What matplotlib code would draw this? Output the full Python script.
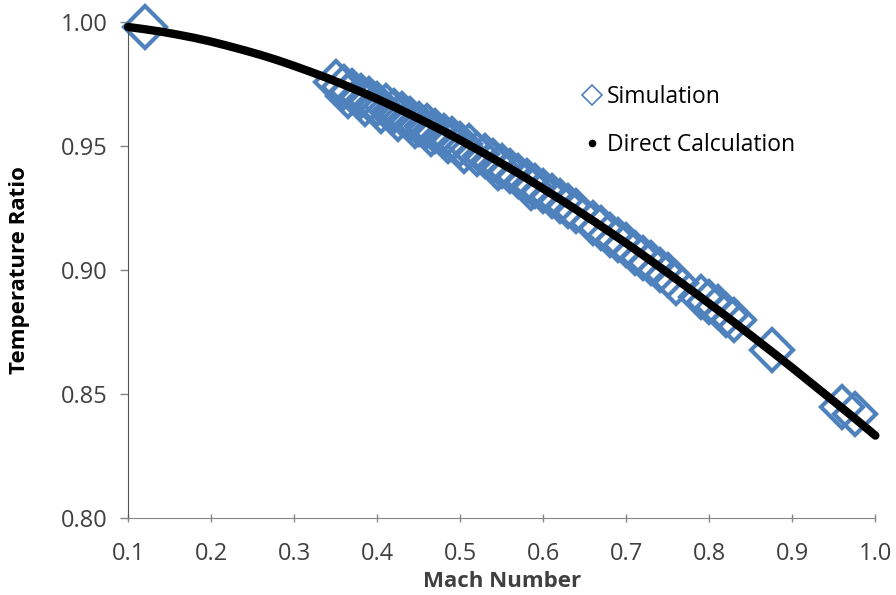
import matplotlib
matplotlib.use("Agg")
import matplotlib.pyplot as plt
from matplotlib.lines import Line2D

# Data
calc_mach = [0.10, 0.12, 0.14, 0.16, 0.18, 0.20, 0.22, 0.24, 0.26, 0.28,
             0.30, 0.32, 0.34, 0.36, 0.38, 0.40, 0.42, 0.44, 0.46, 0.48,
             0.50, 0.52, 0.54, 0.56, 0.58, 0.60, 0.62, 0.64, 0.66, 0.68,
             0.70, 0.72, 0.74, 0.76, 0.78, 0.80, 0.82, 0.84, 0.86, 0.88,
             0.90, 0.92, 0.94, 0.96, 0.98, 1.00]
calc_ratio = [0.9980, 0.9971, 0.9961, 0.9949, 0.9936, 0.9921, 0.9904, 0.9886, 0.9867, 0.9846,
              0.9823, 0.9799, 0.9774, 0.9747, 0.9719, 0.9690, 0.9659, 0.9627, 0.9594, 0.9560,
              0.9524, 0.9487, 0.9449, 0.9410, 0.9370, 0.9328, 0.9286, 0.9243, 0.9199, 0.9154,
              0.9108, 0.9061, 0.9013, 0.8964, 0.8915, 0.8865, 0.8815, 0.8763, 0.8711, 0.8659,
              0.8606, 0.8552, 0.8498, 0.8444, 0.8389, 0.8333]

sim_mach = [0.12, 0.35, 0.36, 0.37, 0.38, 0.39, 0.40, 0.41, 0.42, 0.43,
            0.44, 0.45, 0.46, 0.47, 0.48, 0.49, 0.50, 0.51, 0.52, 0.53,
            0.54, 0.55, 0.56, 0.57, 0.58, 0.59, 0.60, 0.61, 0.62, 0.63,
            0.64, 0.66, 0.67, 0.68, 0.69, 0.70, 0.71, 0.72, 0.73, 0.74,
            0.75, 0.76, 0.79, 0.80, 0.81, 0.82, 0.83, 0.875, 0.96, 0.975,
            0.365, 0.385, 0.405, 0.425, 0.445, 0.465, 0.485, 0.505, 0.545, 0.585]
sim_ratio = [0.998, 0.976, 0.974, 0.972, 0.970, 0.969, 0.967, 0.966, 0.964, 0.963,
             0.961, 0.959, 0.958, 0.956, 0.954, 0.953, 0.951, 0.950, 0.947, 0.946,
             0.944, 0.942, 0.940, 0.938, 0.936, 0.934, 0.932, 0.930, 0.928, 0.926,
             0.924, 0.919, 0.917, 0.914, 0.912, 0.910, 0.907, 0.905, 0.903, 0.900,
             0.898, 0.895, 0.889, 0.887, 0.885, 0.882, 0.880, 0.868, 0.845, 0.842,
             0.970, 0.967, 0.964, 0.961, 0.958, 0.955, 0.952, 0.948, 0.941, 0.933]

x_ticks = [0.1, 0.2, 0.3, 0.4, 0.5, 0.6, 0.7, 0.8, 0.9, 1.0]
y_ticks = [0.80, 0.85, 0.90, 0.95, 1.00]

plt.rcParams['font.family'] = ['Open Sans', 'DejaVu Sans']

blue = '#4F81BD'
fig = plt.figure(figsize=(8.96, 5.95), dpi=100)
ax = fig.add_axes([0.143, 0.129, 0.834, 0.834])

ax.plot(sim_mach, sim_ratio, linestyle='none', marker='D', ms=21,
        mfc='none', mec=blue, mew=3, clip_on=False, zorder=2)
ax.plot(calc_mach, calc_ratio, color='black', lw=6, solid_capstyle='round',
        solid_joinstyle='round', clip_on=False, zorder=3)

ax.set_xlim(0.1, 1.0)
ax.set_ylim(0.80, 1.00)
ax.set_xticks(x_ticks)
ax.set_xticklabels([f'{v:.1f}' for v in x_ticks])
ax.set_yticks(y_ticks)
ax.set_yticklabels([f'{v:.2f}' for v in y_ticks])

for side in ['top', 'right']:
    ax.spines[side].set_visible(False)
ax.spines['left'].set_color('#555555')
ax.spines['bottom'].set_color('#868686')
ax.tick_params(axis='both', colors='#868686', labelcolor='#404040',
               labelsize=17, length=6, width=1)
ax.tick_params(axis='x', direction='inout', pad=14)
ax.tick_params(axis='y', pad=9)

ax.set_xlabel('Mach Number', fontsize=16, fontweight='bold', color='#404040',
              labelpad=4)
ax.set_ylabel('Temperature Ratio', fontsize=16, fontweight='bold', color='black',
              labelpad=22)

handles = [
    Line2D([], [], linestyle='none', marker='D', ms=10, mfc='none', mec=blue, mew=1.2),
    Line2D([], [], linestyle='none', marker='o', ms=4.5, color='black'),
]
ax.legend(handles, ['Simulation', 'Direct Calculation'], frameon=False,
          loc='upper left', bbox_to_anchor=(0.612, 0.874), fontsize=16.5,
          handlelength=0.6, handletextpad=0.35, labelspacing=1.05,
          borderpad=0, borderaxespad=0)

fig.savefig('out.png', dpi=100)
